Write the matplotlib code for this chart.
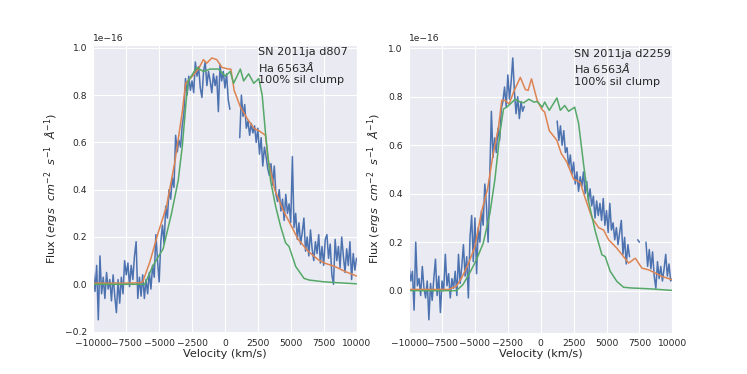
import numpy as np
import matplotlib
matplotlib.use("Agg")
import matplotlib.pyplot as plt
import seaborn as sns

sns.set_style("darkgrid")

nan = np.nan

# observed spectra (flux in 1e-16 ergs/cm2/s/A), sampled every 125 km/s from -10000 to 10000
vel_obs = np.linspace(-10000, 10000, 161)

obs_d807 = [
    0.05, -0.03, 0.08, -0.15, 0.12, -0.04, 0.03, -0.06,
    0.05, -0.02, 0.02, -0.07, 0.04, -0.05, -0.12, 0.02,
    -0.08, 0.03, -0.04, 0.10, 0.04, 0.09, -0.01, 0.08,
    0.02, 0.12, 0.18, -0.06, 0.03, -0.05, 0.04, -0.06,
    0.02, -0.04, 0.05, -0.02, 0.08, 0.03, 0.21, 0.10,
    0.01, 0.18, 0.25, 0.17, 0.33, 0.28, 0.40, 0.36,
    0.45, 0.41, 0.63, 0.56, 0.61, 0.58, 0.67, 0.72,
    0.87, 0.80, 0.88, 0.82, 0.86, 0.81, 0.94, 0.88,
    0.92, 0.83, 0.79, 0.90, 0.94, 0.84, 0.90, 0.86,
    0.81, 0.89, 0.84, 0.88, 0.73, 0.93, 0.86, 0.90,
    0.83, 0.89, 0.78, 0.74, nan, nan, nan, nan,
    nan, 0.62, 0.80, 0.71, 0.76, 0.66, 0.69, 0.63,
    0.68, 0.64, 0.67, 0.60, 0.66, 0.55, 0.62, 0.50,
    0.58, 0.54, 0.49, 0.46, 0.51, 0.42, 0.50, 0.38,
    0.35, 0.40, 0.31, 0.36, 0.27, 0.38, 0.30, 0.34,
    0.26, 0.54, 0.24, 0.30, 0.19, 0.26, 0.17, 0.22,
    0.28, 0.14, 0.20, 0.12, 0.23, 0.15, 0.10, 0.18,
    0.13, 0.21, 0.09, 0.16, 0.08, 0.19, 0.21, 0.11,
    0.17, 0.04, 0.00, 0.19, 0.10, 0.16, 0.07, 0.20,
    0.12, 0.05, 0.15, 0.08, 0.18, 0.02, 0.13, 0.06,
    0.11,
]

obs_d2259 = [
    0.10, 0.04, 0.08, -0.08, 0.20, 0.02, 0.05, -0.02,
    0.10, 0.01, -0.03, 0.04, -0.12, 0.03, -0.04, 0.05,
    0.13, -0.02, 0.06, -0.09, 0.04, 0.00, 0.15, 0.02,
    0.07, -0.03, 0.05, 0.01, 0.08, -0.02, 0.15, 0.03,
    0.10, 0.19, 0.06, 0.14, -0.03, 0.22, 0.31, 0.12,
    0.30, 0.07, 0.26, 0.20, 0.33, 0.27, 0.44, 0.35,
    0.20, 0.47, 0.74, 0.55, 0.63, 0.57, 0.67, 0.62,
    0.75, 0.78, 0.84, 0.76, 0.89, 0.79, 0.86, 0.96,
    0.82, 0.73, 0.80, 0.71, 0.78, 0.74, 0.76, nan,
    nan, nan, nan, nan, nan, nan, nan, nan,
    nan, nan, nan, nan, nan, nan, nan, nan,
    nan, nan, 0.70, 0.62, 0.68, 0.60, 0.66, 0.57,
    0.59, 0.51, 0.56, 0.48, 0.53, 0.44, 0.49, 0.41,
    0.47, 0.43, 0.49, 0.40, 0.45, 0.37, 0.42, 0.35,
    0.39, 0.30, 0.37, 0.31, 0.36, 0.29, 0.38, 0.27,
    0.33, 0.24, 0.36, 0.25, 0.28, 0.21, 0.26, 0.19,
    0.24, 0.29, 0.15, 0.22, 0.11, 0.19, 0.14, nan,
    nan, nan, nan, 0.21, 0.20, nan, nan, nan,
    0.20, 0.10, 0.17, 0.09, 0.16, 0.06, 0.01, 0.12,
    0.05, 0.10, 0.04, 0.09, 0.15, 0.06, 0.11, 0.04,
    0.05,
]

# model spectra (100% sil clump)
vel_m1_orange = [-10000, -8000, -6500, -6250, -5700, -5080, -4440, -3800, -3240, -2990,
                 -2520, -2020, -1640, -1380, -1000, -620, -230, 280, 450, 700,
                 1170, 1700, 2200, 2700, 3080, 3270, 3780, 4400, 4920, 5560,
                 6320, 7090, 7600, 8370, 9130, 10000]
flux_m1_orange = [0.005, 0.005, 0.006, 0.01, 0.096, 0.217, 0.33, 0.52, 0.73, 0.85,
                  0.877, 0.91, 0.95, 0.935, 0.957, 0.95, 0.917, 0.91, 0.91, 0.82,
                  0.75, 0.70, 0.66, 0.645, 0.63, 0.53, 0.40, 0.316, 0.26, 0.19,
                  0.14, 0.104, 0.089, 0.075, 0.054, 0.035]

vel_m1_green = [-10000, -6100, -5460, -4700, -4060, -3550, -3240, -2910, -2780, -2150,
                -1640, -1130, -490, 20, 400, 660, 1170, 1420, 1800, 2190,
                2570, 2830, 3080, 3460, 3850, 4230, 4610, 4870, 5380, 6010,
                6400, 7430, 8450, 10000]
flux_m1_green = [0.0, 0.0, 0.08, 0.15, 0.30, 0.44, 0.585, 0.80, 0.86, 0.917,
                 0.90, 0.91, 0.91, 0.88, 0.90, 0.85, 0.91, 0.86, 0.89, 0.85,
                 0.87, 0.80, 0.64, 0.44, 0.33, 0.245, 0.175, 0.16, 0.075, 0.025,
                 0.018, 0.011, 0.007, 0.002]

vel_m2_orange = [-10000, -7000, -6420, -6040, -5530, -5010, -4500, -4040, -3600, -3220,
                 -2960, -2700, -2400, -2060, -1550, -1170, -960, -700, -270, 120,
                 300, 650, 1230, 1560, 1990, 2500, 3000, 3390, 3900, 4400,
                 4780, 5160, 5790, 6300, 6680, 7190, 7690, 8200, 8700, 9200,
                 10000]
flux_m2_orange = [0.005, 0.005, 0.018, 0.05, 0.107, 0.18, 0.326, 0.42, 0.57, 0.67,
                  0.785, 0.785, 0.77, 0.82, 0.88, 0.83, 0.826, 0.874, 0.785, 0.745,
                  0.737, 0.66, 0.62, 0.566, 0.53, 0.46, 0.447, 0.38, 0.30, 0.26,
                  0.25, 0.21, 0.175, 0.14, 0.114, 0.134, 0.093, 0.086, 0.073, 0.059,
                  0.045]

vel_m2_green = [-10000, -6420, -5910, -5400, -4890, -4370, -3860, -3480, -3090, -2830,
                -2580, -2320, -1940, -1550, -1300, -900, -530, -270, 120, 300,
                650, 1230, 1490, 1820, 2120, 2580, 2880, 3260, 3640, 4150,
                4650, 4900, 5280, 5790, 6300, 6930, 8200, 10000]
flux_m2_green = [0.0, 0.0, 0.025, 0.073, 0.127, 0.196, 0.32, 0.46, 0.655, 0.75,
                 0.757, 0.77, 0.79, 0.778, 0.775, 0.79, 0.778, 0.78, 0.757, 0.778,
                 0.744, 0.795, 0.744, 0.764, 0.74, 0.757, 0.69, 0.52, 0.367, 0.244,
                 0.148, 0.141, 0.08, 0.038, 0.014, 0.011, 0.008, 0.001]

panels = [
    ("SN 2011ja d807", obs_d807, vel_m1_orange, flux_m1_orange, vel_m1_green, flux_m1_green),
    ("SN 2011ja d2259", obs_d2259, vel_m2_orange, flux_m2_orange, vel_m2_green, flux_m2_green),
]

scale = 1e-16
fig, axes = plt.subplots(1, 2, figsize=(7.47, 3.74), dpi=100)

for ax, (name, obs, vo, fo, vg, fg) in zip(axes, panels):
    ax.plot(vel_obs, np.array(obs) * scale, color='#4C72B0', lw=1.1)
    ax.plot(vo, np.array(fo) * scale, color='#DD8452', lw=1.1)
    ax.plot(vg, np.array(fg) * scale, color='#55A868', lw=1.1)
    ax.set_xlim(-10000, 10000)
    ax.set_xlabel('Velocity (km/s)', fontsize=8.1, labelpad=1)
    ax.set_ylabel(r'Flux ($ergs$  $cm^{-2}$  $s^{-1}$  $\AA^{-1}$)', fontsize=8.1, labelpad=3)
    ax.tick_params(labelsize=6.6, pad=1)
    ax.yaxis.get_offset_text().set_fontsize(6.6)
    # last line's baseline sits at the given y
    ax.text(2500, 0.85 * scale, name + '\nHa 6563$\\AA$\n100% sil clump', fontsize=8.1)

plt.savefig('out.png', dpi=100)
